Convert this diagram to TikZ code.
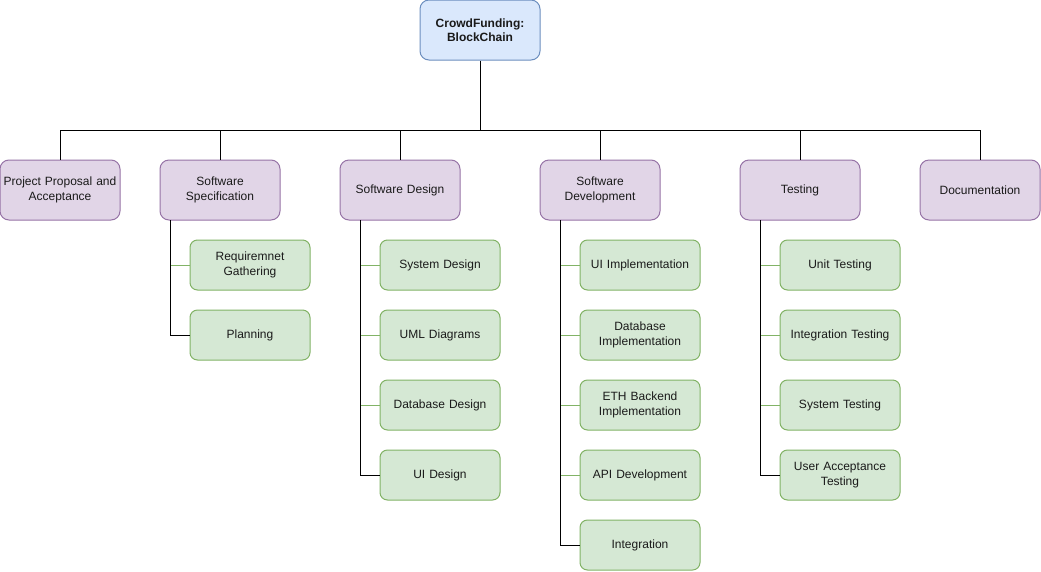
\documentclass[tikz,border=0pt]{standalone}
\usepackage{fontspec}
\setmainfont{Liberation Sans}
\definecolor{rootfill}{HTML}{DAE8FC}
\definecolor{rootline}{HTML}{6C8EBF}
\definecolor{purfill}{HTML}{E1D5E7}
\definecolor{purline}{HTML}{9673A6}
\definecolor{grnfill}{HTML}{D5E8D4}
\definecolor{grnline}{HTML}{82B366}
\definecolor{txt}{HTML}{1A1A1A}
\begin{document}
\begin{tikzpicture}[x=1pt,y=-1pt,
  base/.style={rectangle, align=center, inner sep=0pt, line width=1pt, text=txt,
    font=\fontsize{12}{14.5}\selectfont, text width=114pt, minimum width=120pt},
  rootbox/.style={base, fill=rootfill, draw=rootline, minimum height=60pt, rounded corners=9pt, font=\fontsize{12}{14.5}\selectfont\bfseries},
  topbox/.style={base, fill=purfill, draw=purline, minimum height=60pt, rounded corners=9pt},
  leafbox/.style={base, fill=grnfill, draw=grnline, minimum height=50pt, rounded corners=7.5pt},
  conn/.style={line width=1pt, draw=black},
  gconn/.style={line width=1pt, draw=grnline}]
\useasboundingbox (0,0) rectangle (1041,571);
\fill[white] (0,0) rectangle (1041,571);

\node[rootbox] (root) at (480,30) {CrowdFunding:\\BlockChain};

\node[topbox] (p1) at (60,190) {Project Proposal and\\Acceptance};
\node[topbox] (p2) at (220,190) {Software\\Specification};
\node[topbox] (p3) at (400,190) {Software Design};
\node[topbox] (p4) at (600,190) {Software\\Development};
\node[topbox] (p5) at (800,190) {Testing};
\node[topbox] (p6) at (980,190) {Documentation};

\coordinate (bus) at (480,130);
\draw[conn] (root.south) -- (bus);
\foreach \p in {p1,p2,p3,p4,p5,p6} \draw[conn] (bus) -| (\p.north);

% Software Specification
\node[leafbox] (s1) at (250,265) {Requiremnet\\Gathering};
\node[leafbox] (s2) at (250,335) {Planning};
\coordinate (sv) at (170,220);
\draw[gconn] (sv) |- (s1.west);
\draw[conn] (sv) |- (s2.west);

% Software Design
\node[leafbox] (d1) at (440,265) {System Design};
\node[leafbox] (d2) at (440,335) {UML Diagrams};
\node[leafbox] (d3) at (440,405) {Database Design};
\node[leafbox] (d4) at (440,475) {UI Design};
\coordinate (dv) at (360,220);
\foreach \c in {d1,d2,d3} \draw[gconn] (dv) |- (\c.west);
\draw[conn] (dv) |- (d4.west);

% Software Development
\node[leafbox] (v1) at (640,265) {UI Implementation};
\node[leafbox] (v2) at (640,335) {Database\\Implementation};
\node[leafbox] (v3) at (640,405) {ETH Backend\\Implementation};
\node[leafbox] (v4) at (640,475) {API Development};
\node[leafbox] (v5) at (640,545) {Integration};
\coordinate (vv) at (560,220);
\foreach \c in {v1,v2,v3,v4} \draw[gconn] (vv) |- (\c.west);
\draw[conn] (vv) |- (v5.west);

% Testing
\node[leafbox] (t1) at (840,265) {Unit Testing};
\node[leafbox] (t2) at (840,335) {Integration Testing};
\node[leafbox] (t3) at (840,405) {System Testing};
\node[leafbox] (t4) at (840,475) {User Acceptance\\Testing};
\coordinate (tv) at (760,220);
\foreach \c in {t1,t2,t3} \draw[gconn] (tv) |- (\c.west);
\draw[conn] (tv) |- (t4.west);
\end{tikzpicture}
\end{document}
